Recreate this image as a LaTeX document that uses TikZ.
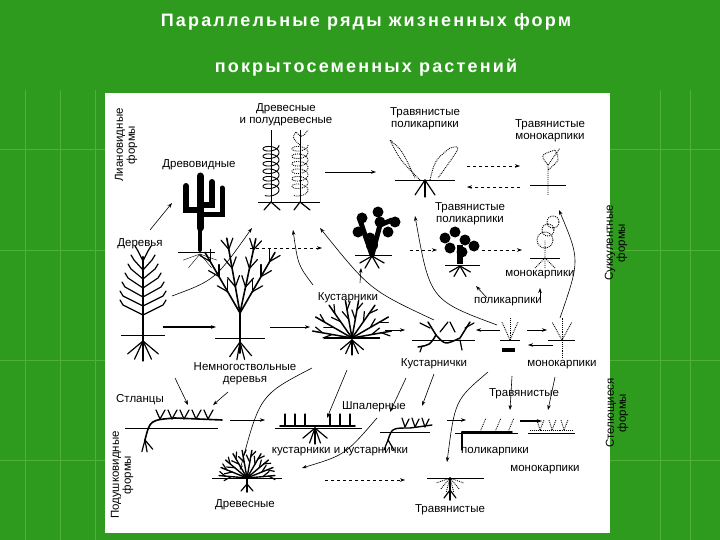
\documentclass[tikz,border=0pt]{standalone}
\usepackage{fontspec}
\setmainfont{Liberation Sans}
\newfontfamily\titlefont[LetterSpace=12]{Liberation Sans Bold}
\usetikzlibrary{arrows.meta,calc}
\definecolor{bggreen}{HTML}{2E9B1E}
\definecolor{gridgreen}{HTML}{4FB03A}
\tikzset{
  lab/.style={font=\fontsize{11.5}{12}\selectfont, inner sep=0.5pt, align=center},
  vlab/.style={lab, rotate=90},
  arr/.style={-{Stealth[length=5pt,width=3.5pt]}, line width=0.6pt},
  darr/.style={arr, dashed},
  gline/.style={line width=0.8pt},
  br/.style={line width=1.2pt, line cap=round},
  dt/.style={densely dotted, line width=0.9pt},
  pics/tree/.style={code={
    \draw[br, line width=2.2pt] (0,22) -- (0,-78);
    \foreach \y/\w in {-74/5,-65/9,-56/12,-47/15,-38/18,-29/20,-20/20}{
      \draw[br] (0,\y) -- (-\w,\y-10) -- (-\w-3,\y-15);
      \draw[br] (0,\y) -- (\w,\y-10) -- (\w+3,\y-15);}
    \draw[gline] (-22,0) -- (22,0);
    \foreach \a in {-140,-115,-90,-65,-40}{\draw[br] (0,6) -- ++(\a:-20);}
  }},
  pics/multitree/.style={code={
    \draw[br, line width=2pt] (0,15) -- (0,-25);
    \foreach \a/\l in {-60/70,-78/76,-100/76,-120/70}{
      \draw[br, line width=1.6pt] (0,-25) -- ++(\a:\l);
      \foreach \f in {0.35,0.6,0.85}{
        \draw[br] ($(0,-25)+(\a:\f*\l)$) -- ++(\a-30:12);
        \draw[br] ($(0,-25)+(\a:\f*\l)$) -- ++(\a+30:12);}}
    \draw[gline] (-25,0) -- (25,0);
    \foreach \a in {-130,-105,-80,-55}{\draw[br] (0,4) -- ++(\a:-18);}
  }},
  pics/shrub/.style={code={
    \foreach \a/\l in {-10/40,-30/42,-55/40,-80/38,-100/38,-125/40,-150/42,-170/40}{
      \draw[br, line width=1.5pt] (0,0) -- ++(\a:\l);
      \draw[br] ($(0,0)+(\a:0.5*\l)$) -- ++(\a-30:10);
      \draw[br] ($(0,0)+(\a:0.75*\l)$) -- ++(\a+30:9);}
    \draw[gline, line width=1.5pt] (-28,0) -- (28,0);
    \foreach \a in {-140,-115,-90,-65,-40}{\draw[br] (0,2) -- ++(\a:-15);}
  }},
  pics/cushion/.style={code={
    \foreach \a in {-5,-22,-40,-60,-80,-100,-120,-140,-158,-175}{
      \draw[br, line width=1.4pt] (0,0) -- ++(\a:28);
      \draw[br] ($(0,0)+(\a:16)$) -- ++(\a-35:8);
      \draw[br] ($(0,0)+(\a:22)$) -- ++(\a+35:7);}
    \draw[gline] (-35,0) -- (35,0);
    \draw[br, line width=1.6pt] (0,0) -- (0,14); \draw[br] (0,6) -- (-6,13); \draw[br] (0,6) -- (6,13);
  }},
}
\begin{document}
\begin{tikzpicture}[x=1pt,y=-1pt]
\useasboundingbox (0,0) rectangle (720,540);
\fill[bggreen] (0,0) rectangle (720,540);
\foreach \x in {25,60,95,660,690}{\draw[gridgreen, line width=1pt] (\x,90) -- (\x,540);}
\foreach \y in {150,250,360,460}{\draw[gridgreen, line width=1pt] (0,\y) -- (720,\y);}
\node[text=white, font=\titlefont\fontsize{18}{20}\selectfont] (t1) at (366,22) {Параллельные ряды жизненных форм};
\node[text=white, font=\titlefont\fontsize{18}{20}\selectfont] (t2) at (366,68) {покрытосеменных растений};
\fill[white] (105,93) rectangle (610,533);

% ---------- labels
\node[lab] (l1) at (286,115) {Древесные\\и полудревесные};
\node[lab] (l2) at (425,119) {Травянистые\\поликарпики};
\node[lab] (l3) at (550,131) {Травянистые\\монокарпики};
\node[vlab] (l4) at (126,145) {Лиановидные\\формы};
\node[lab] (l5) at (199,165) {Древовидные};
\node[lab] (l6) at (140,244) {Деревья};
\node[lab] (l7) at (470,214) {Травянистые\\поликарпики};
\node[vlab] (l8) at (616,243) {Суккулентные\\формы};
\node[lab] (l9) at (540,275) {монокарпики};
\node[lab] (l10) at (508,302) {поликарпики};
\node[lab] (l11) at (348,298) {Кустарники};
\node[lab] (l12) at (245,374) {Немногоствольные\\деревья};
\node[lab] (l13) at (434,364) {Кустарнички};
\node[lab] (l14) at (562,365) {монокарпики};
\node[lab] (l15) at (140,400) {Стланцы};
\node[lab] (l16) at (374,407) {Шпалерные};
\node[lab] (l17) at (524,394) {Травянистые};
\node[vlab] (l18) at (617,413) {Стелющиеся\\формы};
\node[vlab] (l19) at (122,475) {Подушковидные\\формы};
\node[lab] (l20) at (340,452) {кустарники и кустарнички};
\node[lab] (l21) at (495,452) {поликарпики};
\node[lab] (l22) at (545,470) {монокарпики};
\node[lab] (l23) at (245,505) {Древесные};
\node[lab] (l24) at (450,510) {Травянистые};

% ---------- lianas
\draw[gline] (258,202) -- (320,202);
\draw (271,130) -- (271,202);
\draw (300,130) -- (300,202);
\draw[line width=0.9pt] plot[domain=0:2300, samples=200, variable=\t] ({271+8*cos(\t)}, {145+\t/360*7.5+4*sin(\t)});
\draw[densely dotted, line width=0.9pt] plot[domain=0:2300, samples=200, variable=\t] ({300+8*cos(\t)}, {145+\t/360*7.5+4*sin(\t)});
\draw[dt] (300,145) .. controls (292,138) .. (296,132) .. controls (302,138) .. (308,130);
\draw[br] (271,202) -- (264,210); \draw[br] (271,202) -- (280,210);
\draw[br] (300,202) -- (294,210); \draw[br] (300,202) -- (310,210);

% ---------- cactus
\draw[line width=7pt, line cap=round] (200,176) -- (200,228);
\draw[line width=4pt, line cap=round] (200,228) -- (200,250);
\draw[line width=6pt, line cap=round] (200,210) -- (186,210) -- (186,186);
\draw[line width=6pt, line cap=round] (200,205) -- (212,205) -- (212,182);
\draw[line width=5pt, line cap=round] (200,215) -- (222,215) -- (222,188);
\draw[gline] (178,252) -- (215,252);
\foreach \a in {-160,-130,-50,-20}{\draw (200,254) -- ++(\a:-18);}

% ---------- grass polycarp (top)
\draw[gline] (395,180) -- (455,180);
\draw[dt] (420,180) .. controls (400,160) .. (390,140) .. controls (402,150) .. (415,178);
\draw[dt] (430,180) .. controls (435,160) .. (450,148) .. controls (462,145) .. (438,178);
\draw[br] (425,180) -- (415,195); \draw[br] (425,180) -- (435,195); \draw[br] (425,180) -- (425,197);
% grass monocarp top
\draw[gline] (530,185) -- (566,185);
\draw[dt] (548,195) -- (548,165) .. controls (540,155) .. (555,150) .. controls (560,160) .. (548,170);
\draw[dt] (548,165) -- (560,148);

% ---------- opuntias
\foreach \p in {(362,218),(358,232),(370,238),(380,222),(388,232),(378,212),(395,222)}{\fill \p circle (5.5);}
\draw[line width=5pt, line cap=round] (372,255) -- (365,235) -- (360,220); \draw[line width=5pt] (372,255) -- (380,225) -- (392,220);
\fill (372,245) circle (6);
\draw[gline] (355,255) -- (392,255);
\foreach \a in {-150,-120,-60,-30}{\draw[br] (372,256) -- ++(\a:-14);}
\foreach \p in {(445,238),(455,232),(465,240),(474,246),(450,248),(462,252)}{\fill \p circle (5.5);}
\draw[gline] (445,265) -- (480,265);
\draw[line width=6pt] (460,264) -- (460,245);
\foreach \a in {-150,-120,-60,-30}{\draw[br] (460,266) -- ++(\a:-12);}
% dotted succulent monocarp
\draw[gline] (530,258) -- (560,258);
\draw[dt] (545,268) -- (545,240) circle (8) (548,230) circle (6) (553,222) circle (6);
\draw[dt] (545,258) -- (535,268) (545,258) -- (555,268);

% ---------- woody
\pic at (143,335) {tree};
\pic at (240,338) {multitree};
\pic at (352,338) {shrub};
% dwarf shrub
\draw[gline] (412,340) -- (475,340);
\draw[br, line width=1.5pt] (418,347) .. controls (430,345) .. (436,335) -- (428,322);
\draw[br, line width=1.5pt] (436,335) .. controls (445,345) .. (460,338) -- (470,322);
\draw[br] (430,328) -- (420,323); \draw[br] (440,332) -- (448,322); \draw[br] (455,332) -- (450,322); \draw[br] (465,328) -- (474,323);
\draw[br] (422,346) -- (420,352); \draw[br] (460,340) -- (462,350);
% herb small
\draw[gline] (500,340) -- (520,340);
\draw[dt] (510,340) -- (510,318); \draw[dt] (510,340) -- (502,322); \draw[dt] (510,340) -- (518,322);
\fill (502,348) rectangle (515,352);
\draw[gline] (548,340) -- (575,340);
\draw[dt] (562,358) -- (562,318); \draw[dt] (562,340) -- (552,322); \draw[dt] (562,340) -- (572,322);

% ---------- creeping
\draw[gline] (125,428) -- (218,428);
\draw[br, line width=1.6pt] (145,440) .. controls (150,420) .. (175,418) -- (222,420);
\foreach \x in {160,172,184,196,208}{\draw[br] (\x,419) -- (\x-4,410); \draw[br] (\x,419) -- (\x+5,410);}
\foreach \a in {-130,-100,-75}{\draw[br] (145,440) -- ++(\a:-12);}
% trellis
\draw[gline] (275,428) -- (362,428);
\draw[br, line width=1.6pt] (280,426) -- (355,426);
\foreach \x in {285,295,305,330,340,350}{\draw[br] (\x,426) -- (\x,414);}
\foreach \a in {-140,-110,-90,-70,-40}{\draw[br] (315,428) -- ++(\a:-16);}
% creeping dwarf shrub
\draw[gline] (380,432) -- (430,432);
\draw[br, line width=1.4pt] (388,440) .. controls (392,428) .. (410,428) -- (432,425);
\foreach \x in {405,415,425}{\draw[br] (\x,427) -- (\x-3,418); \draw[br] (\x,427) -- (\x+4,419);}
\draw[br] (388,440) -- (384,450); \draw[br] (388,440) -- (394,450);
% creeping herbs
\draw[gline] (455,433) -- (518,433);
\draw[br, line width=1.8pt] (462,432) -- (512,432);
\foreach \x in {480,495,508}{\draw[dt] (\x,432) -- (\x+6,418);}
\draw[br] (462,432) -- (462,450);
\draw[gline] (528,433) -- (575,433);
\draw[dt] (530,430) -- (572,430);
\foreach \x in {540,552,564}{\draw[dt] (\x,430) -- (\x-3,420); \draw[dt] (\x,430) -- (\x+4,420);}

% ---------- cushions
\pic at (247,478) {cushion};
\draw[gline] (427,478) -- (484,478);
\foreach \a in {-20,-50,-75,-105,-130,-160}{\draw[dt] (450,478) -- ++(\a:-15);}
\draw[br, line width=1.6pt] (450,478) -- (450,500); \draw[br] (450,490) -- (444,498); \draw[br] (450,490) -- (456,498);

% ---------- arrows (named end points)
\coordinate (a1s) at (150,230); \coordinate (a1e) at (172,203);
\draw[arr] (a1s) -- (a1e);
\coordinate (a2s) at (172,296); \coordinate (a2e) at (252,228);
\draw[arr] (a2s) .. controls (215,280) .. (a2e);
\coordinate (a3s) at (325,172); \coordinate (a3e) at (376,172);
\draw[arr] (a3s) -- (a3e);
\coordinate (a4s) at (467,166); \coordinate (a4e) at (520,166);
\draw[darr] (a4s) -- (a4e);
\coordinate (a5s) at (520,187); \coordinate (a5e) at (467,187);
\draw[darr] (a5s) -- (a5e);
\coordinate (a6s) at (250,248); \coordinate (a6e) at (322,248);
\draw[darr] (a6s) -- (a6e);
\coordinate (a7s) at (410,250); \coordinate (a7e) at (437,250);
\draw[darr] (a7s) -- (a7e);
\coordinate (a8s) at (482,250); \coordinate (a8e) at (522,250);
\draw[darr] (a8s) -- (a8e);
\coordinate (b1s) at (163,327); \coordinate (b1e) at (216,327);
\draw[arr, line width=1.4pt] (b1s) -- (b1e);
\coordinate (b2s) at (270,327); \coordinate (b2e) at (310,327);
\draw[arr] (b2s) -- (b2e);
\coordinate (b3s) at (385,330); \coordinate (b3e) at (405,330);
\draw[arr] (b3s) -- (b3e);
\coordinate (b4s) at (500,330); \coordinate (b4e) at (476,330);
\draw[arr] (b4s) -- (b4e);
\coordinate (b5s) at (527,330); \coordinate (b5e) at (547,330);
\draw[arr] (b5s) -- (b5e);
\coordinate (b6s) at (553,345); \coordinate (b6e) at (528,345);
\draw[arr] (b6s) -- (b6e);
\coordinate (c1s) at (313,285); \coordinate (c1e) at (293,230);
\draw[arr] (c1s) .. controls (298,265) .. (c1e);
\coordinate (c2s) at (360,283); \coordinate (c2e) at (361,268);
\draw[arr] (c2s) -- (c2e);
\coordinate (c3s) at (434,320); \coordinate (c3e) at (320,228);
\draw[arr] (c3s) .. controls (370,290) .. (c3e);
\coordinate (c4s) at (497,325); \coordinate (c4e) at (415,216);
\draw[arr] (c4s) .. controls (430,300) .. (c4e);
\coordinate (c5s) at (487,298); \coordinate (c5e) at (476,286);
\draw[arr] (c5s) -- (c5e);
\coordinate (c6s) at (540,300); \coordinate (c6e) at (540,288);
\draw[arr] (c6s) -- (c6e);
\coordinate (c7s) at (560,318); \coordinate (c7e) at (559,210);
\draw[arr] (c7s) .. controls (580,260) .. (c7e);
\coordinate (d1s) at (175,378); \coordinate (d1e) at (188,405);
\draw[arr] (d1s) -- (d1e);
\coordinate (d2s) at (228,392); \coordinate (d2e) at (213,405);
\draw[arr] (d2s) -- (d2e);
\coordinate (d3s) at (312,368); \coordinate (d3e) at (240,470);
\draw[arr] (d3s) .. controls (260,395) .. (d3e);
\coordinate (d4s) at (347,370); \coordinate (d4e) at (327,418);
\draw[arr] (d4s) -- (d4e);
\coordinate (d5s) at (406,378); \coordinate (d5e) at (390,412);
\draw[arr] (d5s) -- (d5e);
\coordinate (d6s) at (434,374); \coordinate (d6e) at (422,406);
\draw[arr] (d6s) -- (d6e);
\coordinate (d7s) at (488,372); \coordinate (d7e) at (447,462);
\draw[arr] (d7s) .. controls (455,400) .. (d7e);
\coordinate (d8s) at (512,376); \coordinate (d8e) at (510,410);
\draw[arr] (d8s) -- (d8e);
\coordinate (d9s) at (555,377); \coordinate (d9e) at (548,410);
\draw[arr] (d9s) -- (d9e);
\coordinate (e1s) at (230,420); \coordinate (e1e) at (265,420);
\draw[arr] (e1s) -- (e1e);
\coordinate (e2s) at (447,420); \coordinate (e2e) at (466,420);
\draw[arr] (e2s) -- (e2e);
\coordinate (e3s) at (520,421); \coordinate (e3e) at (542,421);
\draw[arr, line width=1.4pt] (e3s) -- (e3e);
\coordinate (e4s) at (377,418); \coordinate (e4e) at (302,468);
\draw[arr] (e4s) .. controls (345,455) .. (e4e);
\coordinate (e5s) at (325,480); \coordinate (e5e) at (405,480);
\draw[darr] (e5s) -- (e5e);
\end{tikzpicture}
\end{document}
